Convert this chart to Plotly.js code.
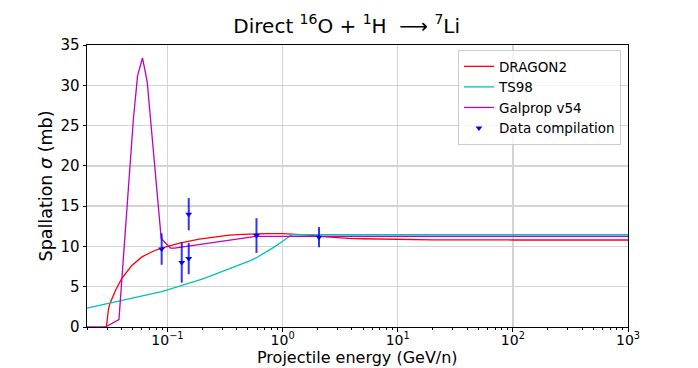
<!DOCTYPE html>
<html>
<head>
<meta charset="utf-8">
<script src="https://cdn.plot.ly/plotly-3.0.1.min.js"></script>
<style>
  html, body { margin: 0; padding: 0; background: #fff; }
  #chart { width: 698px; height: 368px; }
</style>
</head>
<body>
<div id="chart"></div>
<script>
// DRAGON2 cross section (mb) vs energy (GeV/n)
const dragonE = [0.0295, 0.0300, 0.0307, 0.0316, 0.0330, 0.0355, 0.040, 0.0488, 0.060, 0.075, 0.0887, 0.1, 0.13, 0.189, 0.25, 0.344, 0.45, 0.59, 0.75, 1.0, 1.2, 1.39, 1.7, 2.07, 2.7, 3.76, 5.0, 9.6, 20, 100, 1000];
const dragonXS = [0, 1.2, 2.2, 2.9, 3.6, 4.6, 6.0, 7.6, 8.7, 9.4, 9.8, 10.0, 10.45, 10.9, 11.15, 11.4, 11.5, 11.6, 11.6, 11.6, 11.55, 11.5, 11.4, 11.25, 11.1, 11.0, 10.95, 10.85, 10.82, 10.8, 10.8];

// TS98
const ts98E = [0.02, 0.03, 0.05, 0.07, 0.0887, 0.1, 0.136, 0.2, 0.264, 0.344, 0.4, 0.518, 0.593, 0.7, 0.85, 1.0, 1.1, 1.2, 1000];
const ts98XS = [2.35, 2.9, 3.55, 4.05, 4.4, 4.6, 5.2, 5.95, 6.6, 7.2, 7.55, 8.2, 8.6, 9.2, 9.95, 10.65, 11.1, 11.45, 11.45];

// Galprop v54
const galpropE = [0.02, 0.0289, 0.0379, 0.0505, 0.0550, 0.0607, 0.0667, 0.0882, 0.106, 0.115, 0.585, 1000];
const galpropXS = [0, 0, 0.93, 25.7, 31.2, 33.4, 30.4, 11.0, 9.8, 9.8, 11.25, 11.25];

// Data compilation
const dataE = [0.089, 0.133, 0.153, 0.153, 0.593, 2.07];
const dataXS = [9.67, 8.0, 14.0, 8.5, 11.35, 11.15];
const dataErr = [1.95, 2.5, 2.0, 1.95, 2.15, 1.25];

const tickVals = [0.1, 1, 10, 100, 1000];
const tickText = ["10<sup>\u22121</sup>", "10<sup>0</sup>", "10<sup>1</sup>", "10<sup>2</sup>", "10<sup>3</sup>"];

const font = "DejaVu Sans, sans-serif";

const traces = [
  {
    x: dragonE, y: dragonXS, name: "DRAGON2", mode: "lines",
    line: { color: "#ff0000", width: 1.3 },
  },
  {
    x: ts98E, y: ts98XS, name: "TS98", mode: "lines",
    line: { color: "#00bfbf", width: 1.3 },
  },
  {
    x: galpropE, y: galpropXS, name: "Galprop v54", mode: "lines",
    line: { color: "#bf00bf", width: 1.3 },
  },
  {
    x: dataE, y: dataXS, name: "Data compilation", mode: "markers",
    marker: { color: "#0000ff", symbol: "triangle-down", size: 6 },
    error_y: { type: "data", array: dataErr, visible: true, color: "rgba(0,0,255,0.8)", thickness: 2, width: 0 },
  },
];

const layout = {
  width: 698,
  height: 368,
  margin: { l: 87, r: 70, t: 45, b: 41 },
  paper_bgcolor: "#fff",
  plot_bgcolor: "#fff",
  font: { family: font, color: "#000", size: 15 },
  showlegend: true,
  title: {
    text: "Direct <sup>16</sup>O + <sup>1</sup>H  \u27f6 <sup>7</sup>Li",
    font: { family: font, size: 20, color: "#000" },
    x: 0.48, xref: "paper", xanchor: "center",
    y: 0.93, yref: "container", yanchor: "middle",
  },
  xaxis: {
    type: "log",
    range: [Math.log10(0.02), 3],
    tickmode: "array",
    tickvals: tickVals,
    ticktext: tickText,
    ticks: "outside", ticklen: 3.5, tickcolor: "#000",
    tickfont: { size: 14 },
    ticklabelstandoff: -3,
    showgrid: true, gridcolor: "#d3d3d3", gridwidth: 1.5,
    showline: true, linecolor: "#000", linewidth: 1, mirror: true,
    zeroline: false,
    minor: { dtick: "D1", ticks: "outside", ticklen: 2, tickcolor: "#000", showgrid: false },
  },
  yaxis: {
    range: [0, 35],
    dtick: 5,
    ticks: "outside", ticklen: 3.5, tickcolor: "#000",
    tickfont: { size: 15 },
    showgrid: true, gridcolor: "#d3d3d3", gridwidth: 1.5,
    showline: true, linecolor: "#000", linewidth: 1, mirror: true,
    zeroline: false,
    title: { text: "Spallation <i>\u03c3</i> (mb)", font: { size: 17.5 }, standoff: 3 },
  },
  annotations: [
    {
      text: "Projectile energy (GeV/n)",
      xref: "paper", yref: "paper",
      x: 0.5, xanchor: "center",
      y: -41 / 282, yanchor: "bottom", yshift: -1,
      showarrow: false,
      font: { family: font, size: 16, color: "#000" },
    },
  ],
  legend: {
    x: 0.987, xanchor: "right",
    y: 0.982, yanchor: "top",
    bgcolor: "rgba(255,255,255,0.8)",
    bordercolor: "#cccccc", borderwidth: 1,
    font: { family: font, size: 13.5, color: "#000" },
    tracegroupgap: 0,
  },
};

Plotly.newPlot("chart", traces, layout, { displayModeBar: false, staticPlot: true });
</script>
</body>
</html>
